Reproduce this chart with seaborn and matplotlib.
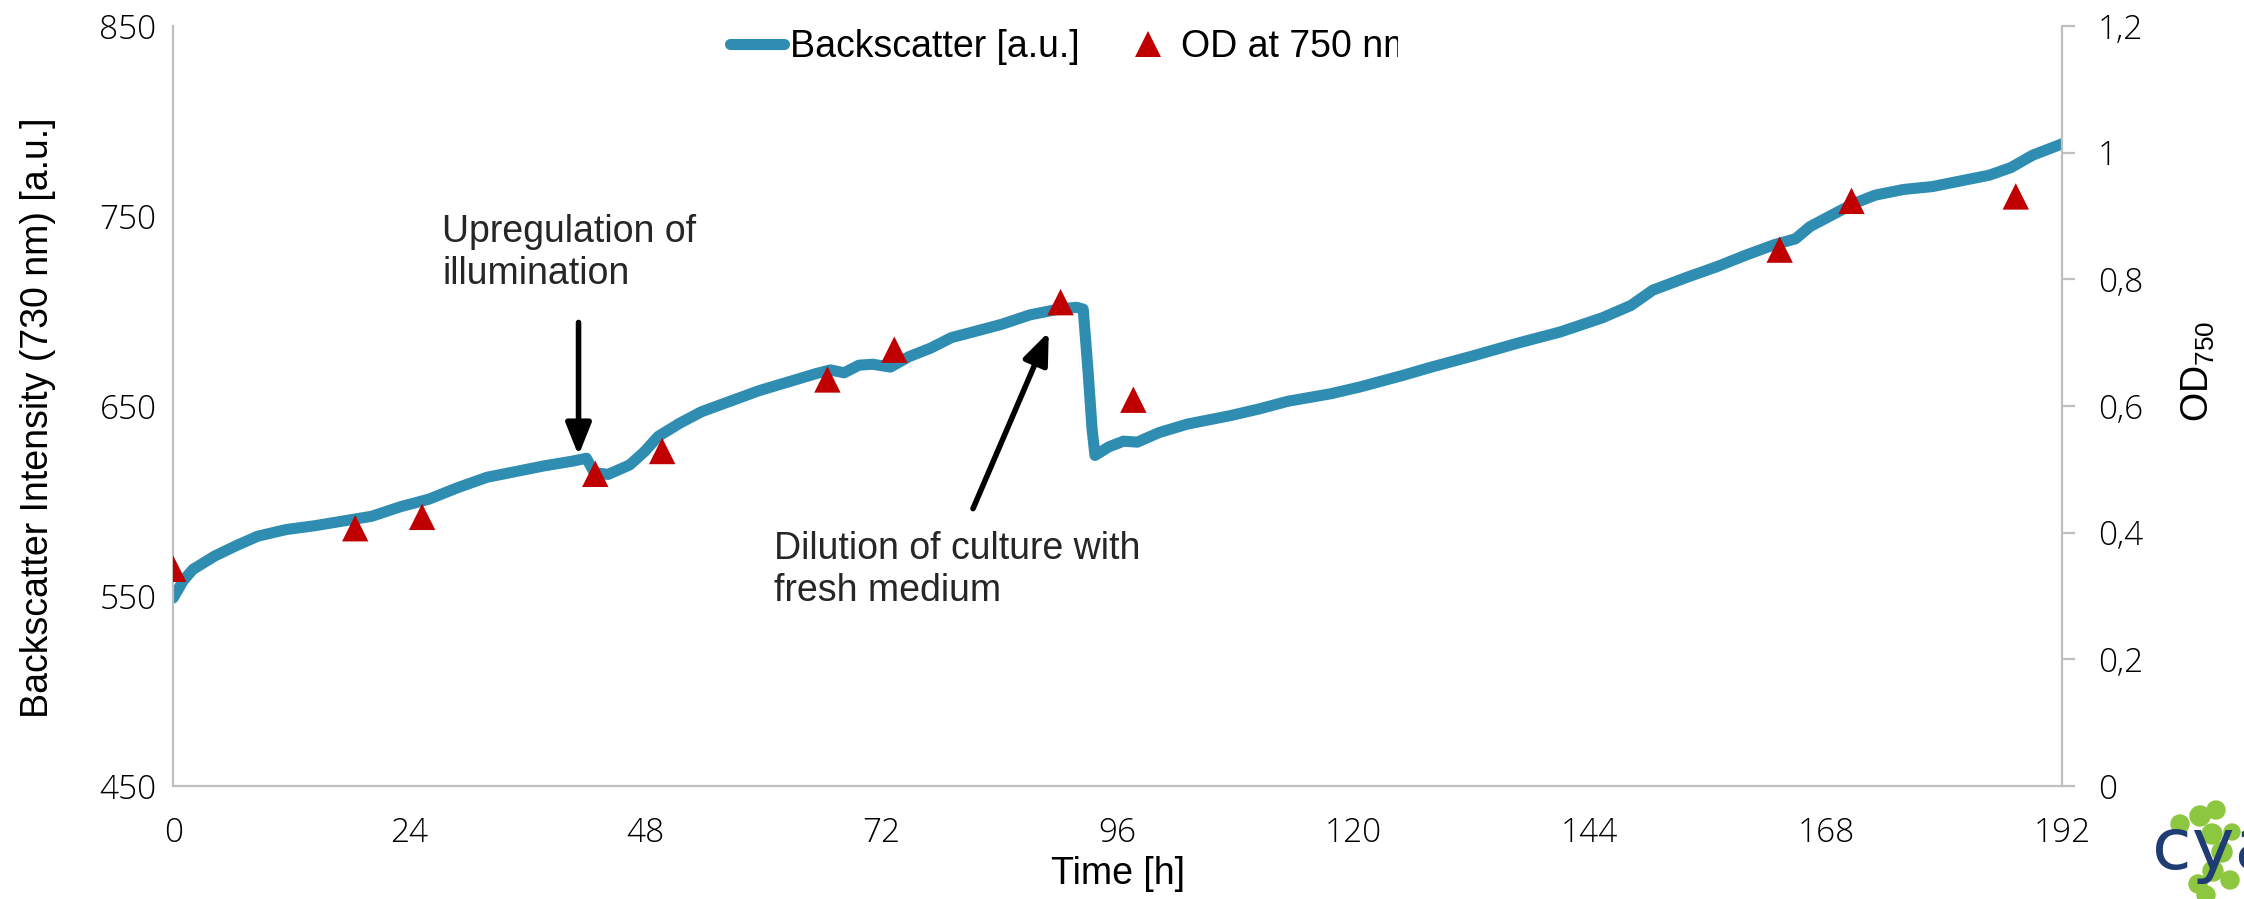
import numpy as np
import pandas as pd
import matplotlib
matplotlib.use("Agg")
import matplotlib.pyplot as plt
import seaborn as sns
from matplotlib.lines import Line2D
from matplotlib.patches import Circle
from matplotlib.transforms import Bbox, TransformedBbox

# ---------------- data ----------------
time_h = [0, 1, 2, 4.2, 6.4, 8.6, 11.5, 14.4, 17.3, 20.2,
          23.1, 26, 28.9, 31.9, 34.8, 37.7, 40.6, 42, 42.8, 44.2,
          46.4, 47.9, 49.3, 51.5, 53.7, 56.6, 59.5, 62.4, 65.3, 66.8,
          68.2, 69.7, 71.1, 72.9, 74.8, 77, 79.1, 81.3, 84.2, 87.1,
          90, 91.8, 92.5, 93, 93.4, 93.7, 95.1, 96.6, 98, 100.2,
          103.1, 107.5, 110.4, 113.3, 117.7, 120.6, 124.9, 127.9, 132.2, 136.6,
          141, 145.3, 148.2, 150.4, 154, 157, 159.9, 162.8, 164.9, 166.4,
          168.6, 170.8, 173, 175.9, 178.8, 181.7, 184.6, 186.8, 189, 192]
backscatter = [549, 558, 564, 571, 576.5, 581.5, 585, 587, 589.5, 592,
               597, 601, 607, 612.5, 615.5, 618.5, 621, 622.5, 615, 614,
               619, 626, 634, 641, 647, 652.5, 658, 662.5, 667, 669,
               667.5, 671.5, 672, 670.5, 676, 680.5, 686, 689, 693, 698,
               701, 702, 701, 668, 638, 624, 628.5, 631.5, 631, 636,
               640.5, 645, 648.5, 652.5, 656.5, 660, 666, 670.5, 676.5, 683,
               689, 696.5, 703, 711, 718, 723.5, 729.5, 735, 738, 744.5,
               750.5, 756.5, 761, 764, 765.5, 768.5, 771.5, 775.5, 782, 788]

od_time = [0, 18.5, 25.3, 42.9, 49.7, 66.5, 73.3, 90.2, 97.6, 163.3, 170.6, 187.3]
od750 = [0.343, 0.407, 0.425, 0.493, 0.529, 0.642, 0.689, 0.764, 0.610, 0.847, 0.924, 0.931]

x_ticks = [0, 24, 48, 72, 96, 120, 144, 168, 192]
left_ticks = [450, 550, 650, 750, 850]
right_ticks = [0, 0.2, 0.4, 0.6, 0.8, 1.0, 1.2]
right_tick_labels = ["0", "0,2", "0,4", "0,6", "0,8", "1", "1,2"]

bs_df = pd.DataFrame({"Time": time_h, "Backscatter": backscatter})
od_df = pd.DataFrame({"Time": od_time, "OD": od750})

# ---------------- style ----------------
sns.set_theme(style="white")
plt.rcParams["font.family"] = ["Liberation Sans", "DejaVu Sans"]
plt.rcParams["mathtext.fontset"] = "custom"
plt.rcParams["mathtext.rm"] = "Liberation Sans"
plt.rcParams["mathtext.it"] = "Liberation Sans"
plt.rcParams["mathtext.default"] = "regular"

LINE_C = "#2E8DB0"
MARK_C = "#C00000"
SPINE_C = "#BFBFBF"
TXT_C = "#262626"
FS = 27
TICK_FONT = dict(fontfamily=["Open Sans", "DejaVu Sans"], fontweight="light",
                 fontsize=24, color="black")

fig = plt.figure(figsize=(22.44, 8.99), dpi=100)
ax = fig.add_axes([0.0772, 0.1257, 0.9189 - 0.0772, 0.971 - 0.1257])

sns.lineplot(data=bs_df, x="Time", y="Backscatter", ax=ax, color=LINE_C,
             lw=8, solid_capstyle="round", solid_joinstyle="round", legend=False)
ax.set_xlim(0, 192)
ax.set_ylim(450, 850)

ax2 = ax.twinx()
sns.scatterplot(data=od_df, x="Time", y="OD", ax=ax2, marker="^", s=19 ** 2,
                color=MARK_C, edgecolor="none", linewidth=0, legend=False, zorder=5)
ax2.set_ylim(0, 1.2)
ax2.set_xlim(0, 192)

# spines
for a in (ax, ax2):
    for s in a.spines.values():
        s.set_visible(False)
ax.spines["left"].set_visible(True)
ax.spines["bottom"].set_visible(True)
ax2.spines["right"].set_visible(True)
for s in (ax.spines["left"], ax.spines["bottom"], ax2.spines["right"]):
    s.set_color(SPINE_C)
    s.set_linewidth(1.6)

# ticks
ax.set_xticks(x_ticks, [str(t) for t in x_ticks], **TICK_FONT)
ax.set_yticks(left_ticks, [str(t) for t in left_ticks], **TICK_FONT)
ax2.set_yticks(right_ticks, right_tick_labels, **TICK_FONT)
ax.tick_params(axis="x", length=0, pad=22)
ax.tick_params(axis="y", length=0, pad=12)
ax2.tick_params(axis="y", right=True, length=9, width=1.6, color=SPINE_C, pad=17)

# axis labels
ax.set_xlabel("Time [h]", fontsize=FS, color="black")
ax.xaxis.set_label_coords(0.5, -0.092)
ax.set_ylabel("Backscatter Intensity (730 nm) [a.u.]", fontsize=FS, color="black")
ax.yaxis.set_label_coords(-0.062, 0.485)
ax2.set_ylabel("OD$_{750}$", fontsize=FS, color="black")
ax2.yaxis.set_label_coords(1.0625, 0.545)

# annotations
ax.text(27.35, 751, "Upregulation of\nillumination", fontsize=FS, color=TXT_C,
        va="top", ha="left", linespacing=1.2)
ax.annotate("", xy=(41.2, 624), xytext=(41.2, 694),
            arrowprops=dict(arrowstyle="-|>,head_length=0.55,head_width=0.22",
                            color="black", lw=4, mutation_scale=35,
                            shrinkA=0, shrinkB=0))
ax.text(61.1, 584, "Dilution of culture with\nfresh medium", fontsize=FS, color=TXT_C,
        va="top", ha="left", linespacing=1.2)
ax.annotate("", xy=(89.0, 689), xytext=(81.3, 596),
            arrowprops=dict(arrowstyle="-|>,head_length=0.55,head_width=0.22",
                            color="black", lw=4, mutation_scale=35,
                            shrinkA=0, shrinkB=0))

# legend
handles = [Line2D([], [], color=LINE_C, lw=8, solid_capstyle="round"),
           Line2D([], [], color=MARK_C, marker="^", markersize=19, linestyle="none",
                  markeredgewidth=0)]
labels = ["Backscatter [a.u.]", "OD at 750 nm"]
leg = ax2.legend(handles, labels, loc="center left",
                 bbox_to_anchor=(730 / 2244, 1 - 47 / 899), bbox_transform=fig.transFigure,
                 ncol=2, frameon=False, fontsize=FS, handlelength=1.45,
                 handletextpad=0.15, columnspacing=1.1, borderpad=0, borderaxespad=0)
clip = TransformedBbox(Bbox.from_extents(0, 0, 1398 / 2244, 1), fig.transFigure)
for t in leg.get_texts():
    t.set_color("black")
leg.get_texts()[1].set_clip_box(clip)
leg.get_texts()[1].set_clip_on(True)

# partial logo at bottom right (decoration)
for (cx, cy, r) in [(2200, 816, 10), (2216, 810, 9), (2212, 834, 10), (2222, 852, 10),
                    (2213, 871, 10), (2198, 884, 9), (2230, 880, 9), (2232, 832, 8),
                    (2180, 824, 9), (2206, 895, 9)]:
    fig.patches.append(Circle((cx, 899 - cy), r, transform=None,
                              color="#8DC63F", zorder=1))
fig.text(2152 / 2244, 30 / 899, "cya", fontsize=52, color="#1F3D73",
         ha="left", va="baseline", family="DejaVu Sans", zorder=3)

fig.savefig("out.png", dpi=100, facecolor="white")
